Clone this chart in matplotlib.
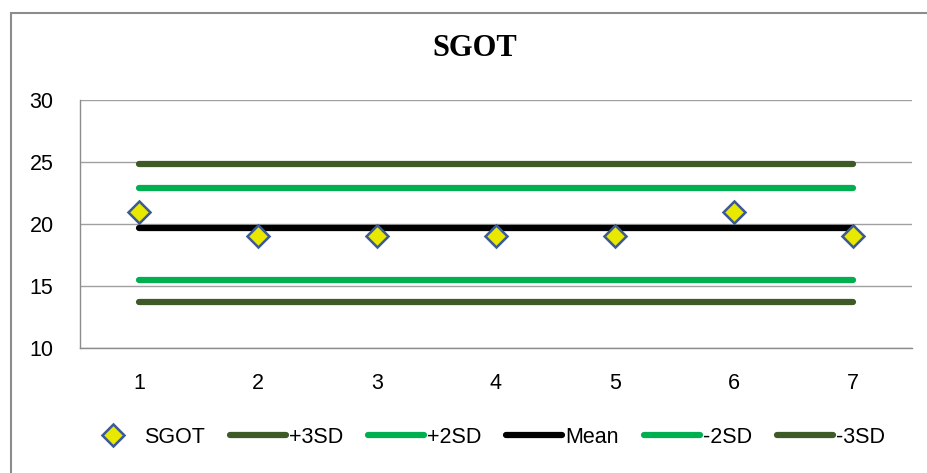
import matplotlib.pyplot as plt
from matplotlib.patches import Rectangle

plt.rcParams['font.family'] = ['Liberation Sans', 'DejaVu Sans']

# data
runs = [1, 2, 3, 4, 5, 6, 7]
sgot = [21, 19, 19, 19, 19, 21, 19]
plus3sd = 24.8
plus2sd = 22.9
mean = 19.7
minus2sd = 15.5
minus3sd = 13.7

dark_green = '#3d5a27'
light_green = '#00b050'

fig = plt.figure(figsize=(9.28, 4.73), dpi=100)
ax = fig.add_axes([80 / 928, 1 - 348 / 473, 832 / 928, 248 / 473])

# outer chart border (runs off the right/bottom edge in the original)
fig.patches.append(Rectangle((11 / 928, -0.05), 1.2, 1 - 13 / 473 + 0.05,
                             transform=fig.transFigure, fill=False,
                             edgecolor='#8c8c8c', linewidth=1.5))

lw = 4.5
lines = [
    (plus3sd, dark_green, '+3SD'),
    (plus2sd, light_green, '+2SD'),
    (mean, 'black', 'Mean'),
    (minus2sd, light_green, '-2SD'),
    (minus3sd, dark_green, '-3SD'),
]
handles = []
pts = ax.plot(runs, sgot, linestyle='none', marker='D', markersize=11,
              markerfacecolor='#e8e800', markeredgecolor='#3c5a96',
              markeredgewidth=1.8, zorder=5, label='SGOT')[0]
handles.append(pts)
for val, col, name in lines:
    h = ax.plot(runs, [val] * len(runs), color=col, linewidth=lw,
                solid_capstyle='round', zorder=3, label=name)[0]
    handles.append(h)

ax.set_xlim(0.5, 7.5)
ax.set_ylim(10, 30)
ax.set_yticks([10, 15, 20, 25, 30])
ax.set_xticks(runs)
ax.tick_params(axis='both', length=0, labelsize=15.5)
ax.tick_params(axis='x', pad=18)
ax.tick_params(axis='y', pad=19)
ax.grid(axis='y', color='#a0a0a0', linewidth=1)
ax.set_axisbelow(True)
for s in ['top', 'right']:
    ax.spines[s].set_visible(False)
for s in ['left', 'bottom']:
    ax.spines[s].set_color('#8c8c8c')
    ax.spines[s].set_linewidth(1)

fig.text(475 / 928, 1 - 49 / 473, 'SGOT', ha='center', va='center',
         fontsize=22, fontweight='bold', family='Liberation Serif')

fig.legend(handles=handles, loc='center', ncol=6,
           bbox_to_anchor=(485 / 928, 1 - 437 / 473), frameon=False,
           fontsize=15.5, handlelength=2.6, handletextpad=0.15,
           columnspacing=1.15)

fig.savefig('out.png', dpi=100)
